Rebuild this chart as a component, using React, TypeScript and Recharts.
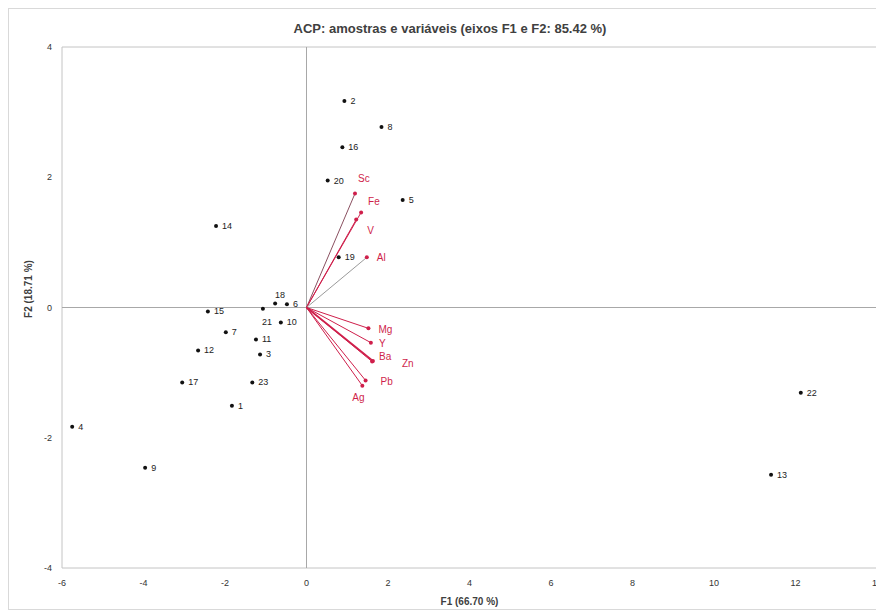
import { ScatterChart, Scatter, XAxis, YAxis, ReferenceLine, ReferenceArea, Label } from 'recharts';

// observations (F1 / F2 scores)
const sampleIds = ['1', '2', '3', '4', '5', '6', '7', '8', '9', '10', '11', '12', '13', '14', '15', '16', '17', '18', '19', '20', '21', '22', '23'];
const sampleF1 = [-1.83, 0.93, -1.14, -5.75, 2.36, -0.48, -1.98, 1.84, -3.96, -0.63, -1.24, -2.66, 11.4, -2.22, -2.42, 0.88, -3.05, -0.77, 0.79, 0.52, -1.07, 12.13, -1.33];
const sampleF2 = [-1.51, 3.17, -0.72, -1.83, 1.65, 0.05, -0.38, 2.77, -2.46, -0.23, -0.49, -0.66, -2.57, 1.25, -0.06, 2.46, -1.15, 0.06, 0.77, 1.95, -0.02, -1.31, -1.15];

// variables (loadings)
const variableNames = ['Sc', 'Fe', 'V', 'Al', 'Mg', 'Y', 'Ba', 'Zn', 'Pb', 'Ag'];
const variableF1 = [1.19, 1.34, 1.22, 1.48, 1.52, 1.58, 1.61, 1.63, 1.45, 1.37];
const variableF2 = [1.75, 1.46, 1.35, 0.77, -0.32, -0.54, -0.83, -0.82, -1.12, -1.2];

const xTicks = [-6, -4, -2, 0, 2, 4, 6, 8, 10, 12, 14];
const yTicks = [-4, -2, 0, 2, 4];

// label nudges [dx, dy] in px
const sampleLabelOffset: Record<string, [number, number]> = {
  '18': [0, -9],
  '21': [-1, 13],
};
const variableLabelOffset: Record<string, [number, number]> = {
  Sc: [3, -15],
  Fe: [7, -11],
  V: [11, 11],
  Al: [10, 0],
  Mg: [10, 1],
  Y: [8, 1],
  Ba: [7, -5],
  Zn: [29, 3],
  Pb: [15, 1],
  Ag: [-10, 12],
};
const variableLineColor: Record<string, string> = {
  Sc: '#8a5060',
  Al: '#9a9a9a',
};

const RED = '#cf1f4b';

const samples = sampleIds.map((name, i) => ({ name, x: sampleF1[i], y: sampleF2[i] }));
const variables = variableNames.map((name, i) => ({ name, x: variableF1[i], y: variableF2[i] }));

const SampleShape = (props: any) => {
  const { cx, cy, payload } = props;
  const [dx, dy] = sampleLabelOffset[payload.name] ?? [6, 0];
  return (
    <g>
      <circle cx={cx} cy={cy} r={2} fill="#111" />
      <text x={cx + dx} y={cy + dy} dominantBaseline="central" fontSize={9} fill="#222" fontFamily="Liberation Sans, sans-serif">
        {payload.name}
      </text>
    </g>
  );
};

const VariableShape = (props: any) => {
  const { cx, cy, payload } = props;
  const [dx, dy] = variableLabelOffset[payload.name] ?? [8, 0];
  return (
    <g>
      <circle cx={cx} cy={cy} r={2} fill={RED} />
      <text x={cx + dx} y={cy + dy} dominantBaseline="central" fontSize={10} fill={RED} fontFamily="Liberation Sans, sans-serif">
        {payload.name}
      </text>
    </g>
  );
};

export default function App() {
  return (
    <div style={{ position: 'relative', width: 876, height: 602, fontFamily: 'Liberation Sans, sans-serif' }}>
      <div style={{ position: 'absolute', inset: 0, border: '1px solid #d9d9d9', pointerEvents: 'none' }} />
      <div
        style={{
          position: 'absolute',
          left: 442,
          top: 20,
          transform: 'translate(-50%, -50%)',
          fontSize: 13,
          fontWeight: 'bold',
          color: '#404040',
          whiteSpace: 'nowrap',
        }}
      >
        ACP: amostras e variáveis (eixos F1 e F2: 85.42 %)
      </div>
      <div
        style={{
          position: 'absolute',
          left: 20,
          top: 281,
          transform: 'translate(-50%, -50%) rotate(-90deg)',
          fontSize: 10,
          fontWeight: 'bold',
          color: '#404040',
          whiteSpace: 'nowrap',
        }}
      >
        F2 (18.71 %)
      </div>
      <ScatterChart width={876} height={602} margin={{ top: 39, right: 7, bottom: 0, left: 0 }} style={{ overflow: 'visible' }}>
        <XAxis
          dataKey="x"
          type="number"
          domain={[-6, 14]}
          ticks={xTicks}
          interval={0}
          allowDataOverflow
          height={42}
          tickLine={false}
          axisLine={false}
          tickMargin={6}
          tick={{ fontSize: 9, fill: '#333' }}
        >
          <Label value="F1 (66.70 %)" position="insideBottom" offset={5} style={{ fontSize: 10, fontWeight: 'bold', fill: '#404040' }} />
        </XAxis>
        <YAxis
          dataKey="y"
          type="number"
          domain={[-4, 4]}
          ticks={yTicks}
          interval={0}
          allowDataOverflow
          width={54}
          tickLine={false}
          axisLine={false}
          tickMargin={4}
          tick={{ fontSize: 9, fill: '#333' }}
        />
        <ReferenceArea x1={-6} x2={14} y1={-4} y2={4} fill="none" stroke="#c4c4c4" strokeWidth={1} fillOpacity={0} />
        <ReferenceLine x={0} stroke="#a8a8a8" />
        <ReferenceLine y={0} stroke="#a8a8a8" />
        {variables.map((v) => (
          <ReferenceLine
            key={v.name}
            segment={[{ x: 0, y: 0 }, { x: v.x, y: v.y }]}
            stroke={variableLineColor[v.name] ?? RED}
            strokeWidth={v.name === 'Zn' ? 1.8 : 1}
          />
        ))}
        <Scatter data={samples} shape={SampleShape} isAnimationActive={false} />
        <Scatter data={variables} shape={VariableShape} isAnimationActive={false} />
      </ScatterChart>
    </div>
  );
}
